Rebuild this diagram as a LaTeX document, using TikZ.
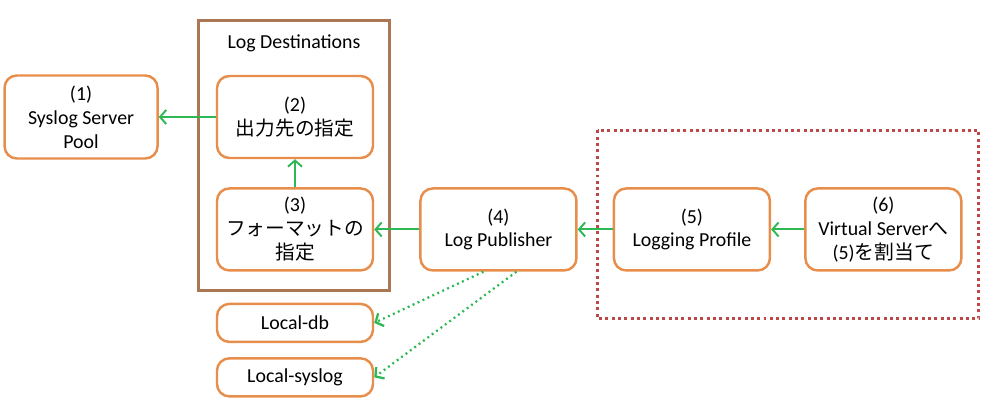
\documentclass[tikz,border=0pt]{standalone}
\usepackage{fontspec}
\setmainfont{Carlito}
\newfontfamily\jpfont{Noto Sans CJK JP}
\usepackage{xcolor}
\usetikzlibrary{positioning, arrows.meta}

\definecolor{boxorange}{RGB}{232,142,76}
\definecolor{framebrown}{RGB}{170,118,84}
\definecolor{arrowgreen}{RGB}{46,184,84}
\definecolor{dotred}{RGB}{190,72,72}

\newcommand{\jpbig}{\jpfont\fontsize{11.2}{13.5}\selectfont}

\tikzset{
    stepbox/.style={draw=boxorange, line width=1.4pt, rounded corners=7pt, fill=white,
        minimum width=3.12cm, minimum height=1.64cm, align=center,
        font=\fontsize{11.3}{13.6}\selectfont, inner sep=2pt},
    smallbox/.style={stepbox, minimum height=0.76cm},
    flow/.style={draw=arrowgreen, line width=1.1pt, -{Straight Barb[length=3.5pt,width=8pt]}},
    localflow/.style={flow, dotted, line width=1.3pt}
}

\begin{document}
\begin{tikzpicture}[node distance=0.56cm and 1.14cm]
    \useasboundingbox (0,0) rectangle (19.68,-8.18);

    % Log Destinations
    \node[stepbox] (dest) at (5.9,-2.34) {(2)\\\jpbig 出力先の指定};
    \node[stepbox, minimum width=3.06cm, minimum height=1.66cm] (pool) [left=1.14cm of dest] {(1)\\Syslog Server\\Pool};
    \node[stepbox] (format) [below=0.56cm of dest] {(3)\\\jpbig フォーマットの\\\jpbig 指定};

    % Publisher and profile
    \node[stepbox] (publisher) [right=0.9cm of format] {(4)\\Log Publisher};
    \node[stepbox] (profile) [right=0.7cm of publisher] {(5)\\Logging Profile};
    \node[stepbox] (vs) [right=0.66cm of profile] {(6)\\Virtual Server{\jpfont へ}\\(5){\jpfont を割当て}};

    % Local outputs
    \node[smallbox] (localdb) [below=0.62cm of format] {Local-db};
    \node[smallbox] (localsyslog) [below=0.28cm of localdb] {Local-syslog};

    % Frames
    \draw[framebrown, line width=1.8pt] ([shift={(-0.34,1.08)}]dest.north west) rectangle ([shift={(0.3,-0.38)}]format.south east);
    \node[font=\fontsize{11.3}{13}\selectfont] (destlabel) at (5.88,-0.86) {Log Destinations};
    \draw[dotred, line width=1.7pt, dash pattern=on 1.7pt off 1.9pt] ([shift={(-0.3,1.14)}]profile.north west) rectangle ([shift={(0.32,-0.94)}]vs.south east);

    % Edges
    \draw[flow] (dest) -- (pool);
    \draw[flow] (format) -- (dest);
    \draw[flow] (publisher) -- (format);
    \draw[flow] (profile) -- (publisher);
    \draw[flow] (vs) -- (profile);
    \draw[localflow] ([xshift=-0.3cm]publisher.south) -- (localdb.east);
    \draw[localflow] ([xshift=0.36cm]publisher.south) -- (localsyslog.east);
\end{tikzpicture}
\end{document}
